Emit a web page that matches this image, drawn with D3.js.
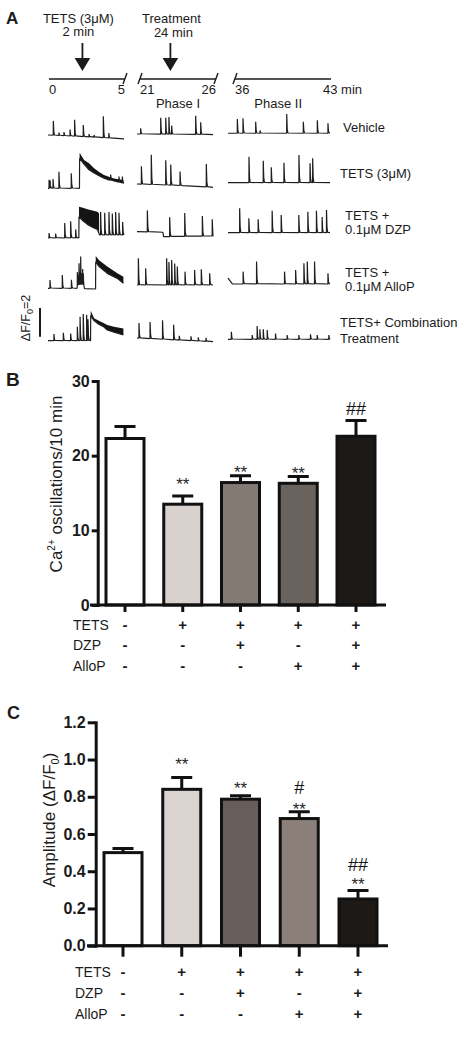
<!DOCTYPE html>
<html><head><meta charset="utf-8">
<script src="https://cdn.jsdelivr.net/npm/d3@7"></script>
<style>body{margin:0;background:#fff} text{font-family:'Liberation Sans',Arial,Helvetica,sans-serif}</style>
</head><body><svg id="c" width="469" height="1050"></svg>
<script>
// ---------------- DATA ----------------
// Panel A timeline
const segDomains = [[0,5],[21,26],[36,43]];
const timeTicks = [0,5,21,26,36,43];
const arrowTimes = [2.2, 23];
const arrowLabels = [["TETS (3μM)","2 min"],["Treatment","24 min"]];
const phaseNames = ["Phase I","Phase II"];
const phaseTimes = [23.5, 39.15];
const traceNames = [["Vehicle"],["TETS (3μM)"],["TETS +","0.1μM DZP"],["TETS +","0.1μM AlloP"],["TETS+ Combination","Treatment"]];
const scaleBarValue = 2;

// Traces (ΔF/F0 units): baseline points [t, level] and spikes [t, amplitude], per segment
const vehicleBase = [[[0,0.07],[2.5,-0.05],[5,-0.2]], [[21,0.14],[26,0.1]], [[36,0.19],[43,0.19]]];
const vehicleSpikes = [
  [[0.35,1.0],[0.72,0.2],[1.05,0.25],[1.45,0.45],[1.75,1.15],[2.32,0.8],[2.7,0.2],[3.03,0.15],[3.64,1.5],[4.0,0.35]],
  [[21.24,0.4],[22.56,1.15],[22.89,1.15],[23.1,1.2],[23.28,0.6],[24.86,1.3],[25.19,0.85]],
  [[36.64,1.0],[37.03,1.05],[37.9,0.8],[38.2,0.2],[40.03,1.35],[41.17,0.8],[42.13,0.9],[42.86,0.7]]];
const tetsBase = [[[0,-0.09],[2.07,-0.09],[5,0.26]], [[21,0.21],[24,0.1],[26,-0.02]], [[36,0.3],[43,0.3]]];
const tetsSpikes = [
  [[0.07,0.6],[0.15,0.55],[0.33,0.65],[0.72,1.15],[1.53,1.05],[4.12,0.4],[4.67,0.4],[4.89,0.45]],
  [[21.29,1.25],[21.94,2.07],[22.89,1.72],[23.22,1.44],[23.83,0.98],[25.56,1.6]],
  [[37.44,1.81],[38.42,1.53],[38.97,1.07],[39.84,1.39],[40.87,1.93],[41.63,1.35],[41.81,1.7]]];
// plateau envelopes [t, low, high] (first segment only)
const tetsPlateau = [[2.08,2.0,2.39],[2.37,1.6,1.88],[2.7,1.2,1.65],[3.03,0.98,1.3],[3.36,0.78,1.05],[3.68,0.62,0.84],[4.0,0.5,0.72],[4.34,0.42,0.6],[4.96,0.26,0.49]];
const dzpBase = [[[0,0],[2.03,0],[3.4,0.21],[5,0.21]], [[21,0.44],[22.7,0.4],[22.75,0.09],[26,0.14]], [[36,0.37],[43,0.37]]];
const dzpSpikes = [
  [[0.07,0.35],[0.5,0.3],[1.1,1.05],[1.49,1.16],[1.82,0.6],[3.46,1.6],[3.73,1.55],[4.01,1.6],[4.23,1.5],[4.45,1.6],[4.67,1.55],[4.91,0.9]],
  [[21.68,1.5],[23.15,1.35],[24.14,1.63],[25.3,1.4],[25.95,1.16]],
  [[36.8,1.7],[37.43,1.0],[38.07,0.93],[39.03,1.53],[39.65,1.23],[40.86,1.23],[41.48,1.46],[42.07,1.53],[42.46,1.1],[42.76,1.58]]];
const dzpPlateau = [[2.04,1.48,2.18],[2.3,1.2,2.1],[2.59,0.95,2.0],[2.92,0.75,1.92],[3.25,0.6,1.83],[3.36,0.3,1.7]];
const allopBase = [[[0,0.05],[1.9,0.05],[2.0,0.3],[2.35,0.3],[2.4,0],[3.13,0]], [[21,0.28],[26,0.28]], [[36,0.75],[36.3,0.35],[43,0.35]]];
const allopSpikes = [
  [[0.13,0.58],[0.94,0.93],[1.54,0.6],[1.93,1.05],[2.0,0.7],[2.04,1.5],[2.1,0.9],[2.15,1.97],[2.22,0.8],[2.28,1.1],[2.32,0.8]],
  [[21.09,1.86],[21.57,1.16],[22.95,1.86],[23.1,1.6],[23.28,1.74],[23.48,1.5],[23.65,1.28],[24.16,0.93],[24.79,1.05],[25.23,1.1],[25.78,0.81]],
  [[37.04,0.86],[37.96,1.56],[39.88,0.86],[40.64,0.98],[41.21,1.44],[41.44,1.56],[41.94,1.56],[42.86,0.74]]];
const allopPlateau = [[3.14,1.9,2.3],[3.36,1.56,2.0],[3.9,1.09,1.56],[4.56,0.74,1.09],[4.96,0.4,0.86]];
const comboBase = [[[0,-0.05],[2.8,-0.05]], [[21,0.14],[26,-0.12]], [[36,0.05],[43,0.05]]];
const comboSpikes = [
  [[0.39,0.46],[1.01,0.56],[1.49,0.5],[1.93,0.98],[2.11,1.67],[2.32,1.86],[2.54,1.8],[2.63,1.5]],
  [[21.13,1.05],[21.86,1.16],[22.68,1.32],[23.41,1.05],[23.78,0.3],[24.55,0.3],[25.03,0.25],[25.54,0.25]],
  [[36.23,0.53],[37.66,0.3],[38.0,0.93],[38.19,0.7],[38.42,0.7],[38.69,0.65],[39.26,0.4],[40.06,0.3],[40.86,0.3],[41.66,0.35],[42.12,0.3],[42.92,0.3]]];
const comboPlateau = [[2.81,1.7,2.04],[3.03,1.35,1.51],[3.25,1.16,1.4],[3.68,0.9,1.16],[3.9,0.7,1.05],[4.34,0.55,0.93],[4.96,0.35,0.81]];

// Panels B & C
const groups = ["Vehicle","TETS","TETS+DZP","TETS+AlloP","TETS+Combination"];
const oscMean = [22.3, 13.5, 16.4, 16.3, 22.6];
const oscErr  = [1.6, 1.1, 0.9, 0.9, 2.1];
const oscColors = ["#ffffff","#d8d1cd","#847a74","#6a625d","#1c1917"];
const oscTicks = [0,10,20,30];
const oscAnnot = [[1,"**",16.6],[2,"**",18.1],[3,"**",17.95],[4,"##",26.3]];
const ampMean = [0.50, 0.84, 0.787, 0.683, 0.251];
const ampErr  = [0.022, 0.063, 0.018, 0.037, 0.045];
const ampColors = ["#ffffff","#dbd3cf","#675e59","#8a7f79","#1c1917"];
const ampTicks = [0,0.2,0.4,0.6,0.8,1.0,1.2];
const ampAnnot = [[1,"**",0.99],[2,"**",0.86],[3,"#",0.85],[3,"**",0.75],[4,"##",0.437],[4,"**",0.344]];
const treatRows = ["TETS","DZP","AlloP"];
const treatTETS  = ["-","+","+","+","+"];
const treatDZP   = ["-","-","+","-","+"];
const treatAlloP = ["-","-","-","+","+"];

// ---------------- DRAW ----------------
const svg = d3.select("#c");
svg.append("rect").attr("width",469).attr("height",1050).attr("fill","#fff");
const INK = "#1b1b1b";

function letter(t,x,y,fs){
  svg.append("text").attr("x",x).attr("y",y).attr("font-size",fs).attr("font-weight","bold").attr("fill",INK).text(t);
}

// ---- Panel A ----
letter("A",6,24,17);
const axisRanges = [[49,125],[140,216],[235,331]];
const tlScales = segDomains.map((d,i)=>d3.scaleLinear().domain(d).range(axisRanges[i]));
const segOf = t => segDomains.findIndex(d=>t>=d[0]-0.01 && t<=d[1]+0.01);
const tl = t => tlScales[segOf(t)](t);
const tlY = 79;
const gA = svg.append("g");
tlScales.forEach((s,i)=>{
  gA.append("line").attr("x1",s.range()[0]).attr("x2",s.range()[1]).attr("y1",tlY).attr("y2",tlY)
    .attr("stroke",INK).attr("stroke-width",1.4);
  const ends = [];
  if(i>0) ends.push(s.range()[0]);
  if(i<tlScales.length-1) ends.push(s.range()[1]);
  ends.forEach(x=>gA.append("line").attr("x1",x-2).attr("y1",tlY+5).attr("x2",x+2).attr("y2",tlY-6)
    .attr("stroke",INK).attr("stroke-width",1.4));
});
timeTicks.forEach((t,i)=>{
  const s = segOf(t), first = t===segDomains[s][0], last = i===timeTicks.length-1;
  gA.append("text").attr("x", last ? tl(t)-8 : tl(t)).attr("y",94).attr("font-size",13).attr("fill",INK)
    .attr("text-anchor", last ? "start" : (first ? "start" : "end"))
    .text(last ? t+" min" : t);
});
phaseNames.forEach((p,i)=>gA.append("text").attr("x",tl(phaseTimes[i])).attr("y",107.5).attr("font-size",13)
  .attr("text-anchor","middle").attr("fill",INK).text(p));
const arrowShift = [-4,1];
arrowTimes.forEach((t,i)=>{
  const x = tl(t);
  gA.append("line").attr("x1",x).attr("x2",x).attr("y1",43).attr("y2",60).attr("stroke",INK).attr("stroke-width",1.8);
  gA.append("path").attr("d",`M${x-7.8},58L${x+7.8},58L${x},71Z`).attr("fill",INK);
  gA.append("text").attr("x",x+arrowShift[i]).attr("y",22.5).attr("font-size",13).attr("text-anchor","middle").attr("fill",INK).text(arrowLabels[i][0]);
  gA.append("text").attr("x",x+arrowShift[i]+(i?2:0)).attr("y",i?37:35.5).attr("font-size",13).attr("text-anchor","middle").attr("fill",INK).text(arrowLabels[i][1]);
});

// traces
const traceRanges = [[48,124],[137,213],[228,330]];
const trScales = segDomains.map((d,i)=>d3.scaleLinear().domain(d).range(traceRanges[i]));
const unit = d3.scaleLinear().domain([0,scaleBarValue]).range([0,-28.7]);
const rowBase = [136,187,238,289,340];
const rows = [
  {base:vehicleBase, spikes:vehicleSpikes, env:null},
  {base:tetsBase, spikes:tetsSpikes, env:tetsPlateau},
  {base:dzpBase, spikes:dzpSpikes, env:dzpPlateau},
  {base:allopBase, spikes:allopSpikes, env:allopPlateau},
  {base:comboBase, spikes:comboSpikes, env:comboPlateau}];

function tracePoints(base, spikes, env){
  let bpts = base.concat(env ? env.map(d=>[d[0],d[1]]) : []).sort((a,b)=>a[0]-b[0]);
  if(env){
    const e0 = env[0][0], e1 = env[env.length-1][0];
    bpts = bpts.filter(d=> env.some(e=>e[0]===d[0]) || d[0]<e0 || d[0]>e1);
  }
  const bs = d3.scaleLinear().domain(bpts.map(d=>d[0])).range(bpts.map(d=>d[1])).clamp(true);
  const pts = bpts.map(d=>[d[0],d[1]]);
  spikes.forEach(([t,a])=>{
    const b = bs(t);
    pts.push([t-0.004,b],[t,b+a],[t+0.035,b+a*0.22],[t+0.08,bs(t+0.08)+0.02]);
  });
  pts.sort((a,b)=>a[0]-b[0]);
  return pts;
}
const gT = svg.append("g");
rows.forEach((r,ri)=>{
  segDomains.forEach((d,si)=>{
    const xs = trScales[si];
    const env = si===0 ? r.env : null;
    const pts = tracePoints(r.base[si], r.spikes[si], env);
    if(env){
      gT.append("path").datum(env).attr("fill","#141414")
        .attr("d", d3.area().x(e=>xs(e[0])).y0(e=>rowBase[ri]+unit(e[1])).y1(e=>rowBase[ri]+unit(e[2])));
    }
    gT.append("path").datum(pts).attr("fill","none").attr("stroke","#1e1e1e").attr("stroke-width",1.2)
      .attr("stroke-linejoin","bevel")
      .attr("d", d3.line().x(p=>xs(p[0])).y(p=>rowBase[ri]+unit(p[1])));
  });
});
// row labels
const rowLabelX = [343,340,345,345,340];
const rowLabelY = [[132],[178],[220,234],[276.7,291],[326.7,343]];
traceNames.forEach((lines,i)=>lines.forEach((l,j)=>{
  gT.append("text").attr("x",rowLabelX[i]).attr("y",rowLabelY[i][j]).attr("font-size",13).attr("fill",INK).text(l);
}));
// scale bar
const sbBottom = 336.7;
gT.append("line").attr("x1",40).attr("x2",40).attr("y1",sbBottom).attr("y2",sbBottom+unit(scaleBarValue))
  .attr("stroke",INK).attr("stroke-width",2);
const sbt = gT.append("text").attr("transform","translate(30,318) rotate(-90)").attr("text-anchor","middle")
  .attr("font-size",12.5).attr("fill",INK);
sbt.append("tspan").text("ΔF/F");
sbt.append("tspan").attr("font-size",9).attr("dy",3).text("0");
sbt.append("tspan").attr("dy",-3).text("="+scaleBarValue);

// ---- Bar panels ----
function barPanel(o){
  const g = svg.append("g");
  const y = d3.scaleLinear().domain([0,o.max]).range(o.yRange);
  const x = d3.scalePoint().domain(groups).range(o.xRange);
  const bw = 38;
  g.selectAll(".eb").data(groups).join("path")
    .attr("d",(d,i)=>{const cx=x(d), t=y(o.mean[i]+o.err[i]), b=y(o.mean[i]); return `M${cx},${b}V${t}M${cx-10.5},${t}H${cx+10.5}`;})
    .attr("stroke","#111").attr("stroke-width",3).attr("fill","none");
  g.selectAll(".bar").data(groups).join("rect")
    .attr("x",d=>x(d)-bw/2).attr("width",bw)
    .attr("y",(d,i)=>y(o.mean[i])).attr("height",(d,i)=>y(0)-y(o.mean[i]))
    .attr("fill",(d,i)=>o.colors[i]).attr("stroke","#111").attr("stroke-width",3);
  const ax = g.append("g").attr("transform",`translate(${o.axisX},0)`)
    .call(d3.axisLeft(y).tickValues(o.ticks).tickFormat(o.fmt).tickSize(o.tickLen).tickSizeOuter(0).tickPadding(2));
  ax.select(".domain").attr("stroke","#111").attr("stroke-width",3).attr("stroke-linecap","square");
  ax.selectAll(".tick line").attr("stroke","#111").attr("stroke-width",3);
  ax.selectAll(".tick text").attr("font-size",16).attr("font-weight","bold").attr("fill",INK)
    .attr("font-family","'Liberation Sans',Arial,sans-serif");
  g.append("line").attr("x1",o.xLine[0]).attr("x2",o.xLine[1]).attr("y1",y(0)).attr("y2",y(0))
    .attr("stroke","#111").attr("stroke-width",3);
  g.selectAll(".bt").data(groups).join("line")
    .attr("x1",d=>x(d)).attr("x2",d=>x(d)).attr("y1",y(0)).attr("y2",y(0)+o.btick)
    .attr("stroke","#111").attr("stroke-width",3);
  // annotations
  o.annot.forEach(([i,t,v])=>{
    const star = t.startsWith("*");
    const fs = star ? 17 : 18;
    g.append("text").attr("x",x(groups[i])).attr("y",y(v)+(star?0.5:0.35)*fs)
      .attr("text-anchor","middle").attr("font-size",fs).attr("fill",star?"#262626":"#111").text(t);
  });
  const yl = g.append("text").attr("transform",`translate(${o.labelPos[0]},${o.labelPos[1]}) rotate(-90)`)
    .attr("text-anchor","middle").attr("font-size",17).attr("fill",INK);
  o.label(yl);
  const treat = [treatTETS, treatDZP, treatAlloP];
  treatRows.forEach((r,ri)=>{
    const yy = o.rowY[ri];
    g.append("text").attr("x",o.rowLabelX).attr("y",yy).attr("font-size",14).attr("fill",INK).text(r);
    g.selectAll(null).data(treat[ri]).join("text")
      .attr("x",(d,i)=>x(groups[i])).attr("y",yy).attr("text-anchor","middle")
      .attr("font-size",15).attr("font-weight","bold").attr("fill",INK).text(d=>d);
  });
}

letter("B",6,386,19);
barPanel({max:30, yRange:[605,381], xRange:[125,356], mean:oscMean, err:oscErr, colors:oscColors,
  ticks:oscTicks, fmt:d3.format("d"), axisX:97.7, tickLen:6, xLine:[90,386], btick:7,
  annot:oscAnnot, labelPos:[62,484], rowLabelX:73, rowY:[629.5,650,670.5],
  label: t=>{ t.append("tspan").text("Ca"); t.append("tspan").attr("font-size",10).attr("dy",-7).text("2+");
              t.append("tspan").attr("dy",7).text(" oscillations/10 min"); }});

letter("C",7,719,18);
barPanel({max:1.2, yRange:[945.7,722.3], xRange:[123,358], mean:ampMean, err:ampErr, colors:ampColors,
  ticks:ampTicks, fmt:d3.format(".1f"), axisX:95.7, tickLen:8, xLine:[87,388], btick:11,
  annot:ampAnnot, labelPos:[55,820], rowLabelX:75, rowY:[976.5,998,1019],
  label: t=>{ t.append("tspan").text("Amplitude (ΔF/F"); t.append("tspan").attr("font-size",11).attr("dy",4).text("0");
              t.append("tspan").attr("dy",-4).text(")"); }});
</script></body></html>
